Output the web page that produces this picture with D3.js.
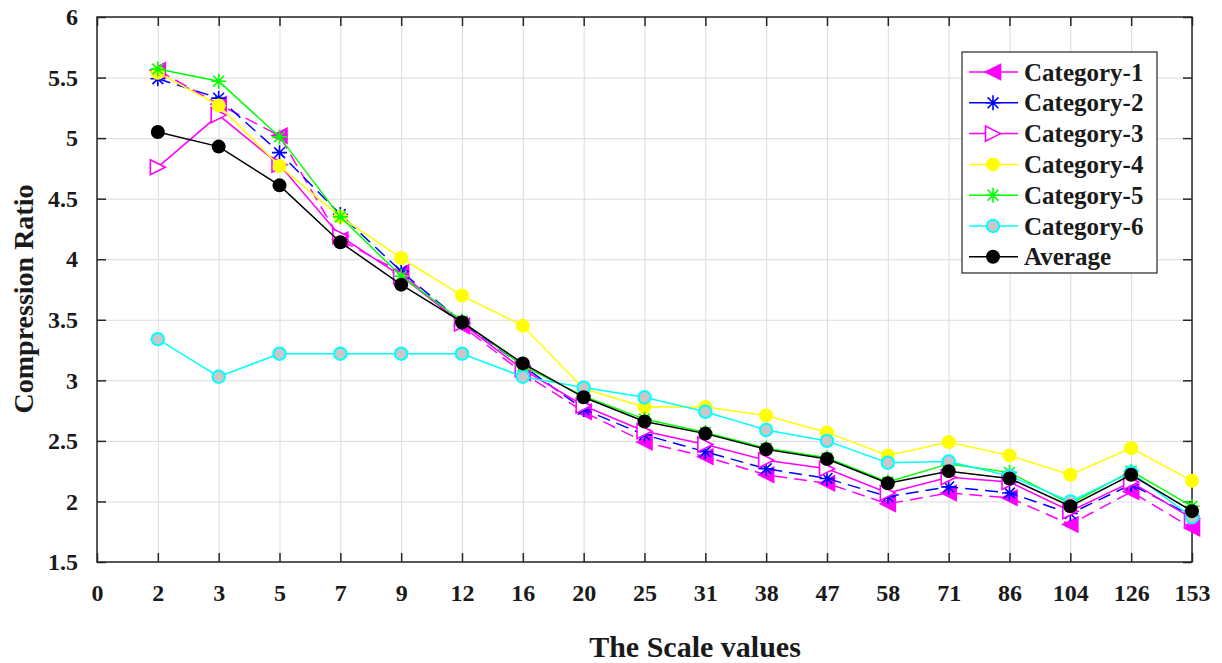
<!DOCTYPE html>
<html>
<head>
<meta charset="utf-8">
<script src="https://cdn.jsdelivr.net/npm/d3@7"></script>
<style>
  html, body { margin: 0; padding: 0; background: #fff; }
  svg { display: block; }
  svg text { font-family: "Liberation Serif", "DejaVu Serif", serif !important; font-weight: bold; }
</style>
</head>
<body>
<script>
// ---------- DATA ----------
const xLabels = ["0","2","3","5","7","9","12","16","20","25","31","38","47","58","71","86","104","126","153"];
const scaleValues = xLabels.slice(1);
const yTicks = [1.5, 2, 2.5, 3, 3.5, 4, 4.5, 5, 5.5, 6];

const seriesNames = ["Category-1","Category-2","Category-3","Category-4","Category-5","Category-6","Average"];

const category1 = [5.56,5.28,5.02,4.16,3.89,3.45,3.06,2.74,2.49,2.37,2.22,2.15,1.98,2.07,2.03,1.81,2.08,1.78];
const category2 = [5.49,5.33,4.88,4.37,3.90,3.48,3.12,2.76,2.55,2.41,2.27,2.19,2.04,2.12,2.07,1.90,2.14,1.88];
const category3 = [4.76,5.19,4.78,4.19,3.86,3.47,3.09,2.79,2.58,2.47,2.34,2.27,2.07,2.20,2.16,1.92,2.16,1.86];
const category4 = [5.54,5.27,4.77,4.35,4.01,3.70,3.45,2.93,2.78,2.78,2.71,2.57,2.38,2.49,2.38,2.22,2.44,2.17];
const category5 = [5.57,5.47,5.01,4.35,3.86,3.49,3.12,2.87,2.68,2.57,2.44,2.36,2.16,2.31,2.24,1.98,2.25,1.96];
const category6 = [3.34,3.03,3.22,3.22,3.22,3.22,3.03,2.94,2.86,2.74,2.59,2.50,2.32,2.33,2.21,2.00,2.24,1.87];
const average   = [5.05,4.93,4.61,4.14,3.79,3.48,3.14,2.86,2.66,2.56,2.43,2.35,2.15,2.25,2.19,1.96,2.22,1.92];

const seriesValues = [category1, category2, category3, category4, category5, category6, average];

// ---------- STYLE ----------
const styles = [
  { color: "#ff00ff", dash: "13,7", marker: "triLeft",  fill: "#ff00ff", stroke: "#ff00ff" },
  { color: "#0000ff", dash: "13,7", marker: "star",     fill: "none",    stroke: "#0000ff" },
  { color: "#ff00ff", dash: null,   marker: "triRight", fill: "#ffffff", stroke: "#ff00ff" },
  { color: "#ffff00", dash: null,   marker: "circle",   fill: "#ffff00", stroke: "#ffff00" },
  { color: "#00ff00", dash: null,   marker: "star",     fill: "none",    stroke: "#00ff00" },
  { color: "#00ffff", dash: null,   marker: "circleC",  fill: "#c8c8c8", stroke: "#00ffff" },
  { color: "#000000", dash: null,   marker: "circle",   fill: "#000000", stroke: "#000000" }
];

const W = 1222, H = 663;
const pL = 97, pR = 1192, pT = 17, pB = 562;
const TXT = "#1a1a1a";

const svg = d3.select("body").append("svg").attr("width", W).attr("height", H);

const x = d3.scalePoint().domain(xLabels).range([pL, pR]).padding(0);
const y = d3.scaleLinear().domain([1.5, 6]).range([pB, pT]);

// grid
const grid = svg.append("g");
grid.append("g").attr("transform", `translate(0,${pB})`)
  .call(d3.axisBottom(x).tickSize(-(pB - pT)).tickFormat(""))
  .call(g => g.select(".domain").remove())
  .call(g => g.selectAll("line").attr("stroke", "#dcdcdc").attr("stroke-width", 1));
grid.append("g").attr("transform", `translate(${pL},0)`)
  .call(d3.axisLeft(y).tickValues(yTicks).tickSize(-(pR - pL)).tickFormat(""))
  .call(g => g.select(".domain").remove())
  .call(g => g.selectAll("line").attr("stroke", "#dcdcdc").attr("stroke-width", 1));

// axes with inward ticks
const TK = 9;
function styleAxis(g, withText) {
  g.attr("font-family", null).attr("font-size", null);
  g.select(".domain").remove();
  g.selectAll("line").attr("stroke", "#262626").attr("stroke-width", 1.5);
  if (withText) {
    g.selectAll("text").attr("fill", TXT).style("font-size", "24px");
  } else {
    g.selectAll("text").remove();
  }
}
svg.append("g").attr("transform", `translate(0,${pB})`)
  .call(d3.axisBottom(x).tickSizeInner(-TK).tickSizeOuter(0).tickPadding(22))
  .call(g => styleAxis(g, true));
svg.append("g").attr("transform", `translate(0,${pT})`)
  .call(d3.axisTop(x).tickSizeInner(-TK).tickSizeOuter(0))
  .call(g => styleAxis(g, false));
svg.append("g").attr("transform", `translate(${pL},0)`)
  .call(d3.axisLeft(y).tickValues(yTicks).tickFormat(d3.format("")).tickSizeInner(-TK).tickSizeOuter(0).tickPadding(19))
  .call(g => styleAxis(g, true));
svg.append("g").attr("transform", `translate(${pR},0)`)
  .call(d3.axisRight(y).tickValues(yTicks).tickSizeInner(-TK).tickSizeOuter(0))
  .call(g => styleAxis(g, false));

// box
svg.append("rect").attr("x", pL).attr("y", pT).attr("width", pR - pL).attr("height", pB - pT)
  .attr("fill", "none").attr("stroke", "#262626").attr("stroke-width", 1.5);

// markers
function markerPath(type) {
  const r = 7.5;
  if (type === "triLeft") return `M${-r},0L${r},${-r}L${r},${r}Z`;
  if (type === "triRight") return `M${r},0L${-r},${-r}L${-r},${r}Z`;
  if (type === "star") {
    const a = r * 0.72;
    return `M${-r},0L${r},0M0,${-r}L0,${r}M${-a},${-a}L${a},${a}M${-a},${a}L${a},${-a}`;
  }
  return null;
}
function drawMarker(sel, st) {
  if (st.marker === "circle") {
    sel.append("circle").attr("r", 7).attr("fill", st.fill).attr("stroke", "none");
  } else if (st.marker === "circleC") {
    sel.append("circle").attr("r", 6.2).attr("fill", st.fill).attr("stroke", st.stroke).attr("stroke-width", 2);
  } else {
    sel.append("path").attr("d", markerPath(st.marker))
      .attr("fill", st.fill).attr("stroke", st.stroke).attr("stroke-width", 1.6)
      .attr("stroke-linejoin", "miter");
  }
}

const line = d3.line().x((d, i) => x(scaleValues[i])).y(d => y(d));

seriesValues.forEach((vals, k) => {
  const st = styles[k];
  const g = svg.append("g");
  g.append("path").datum(vals).attr("d", line)
    .attr("fill", "none").attr("stroke", st.color).attr("stroke-width", 1.5)
    .attr("stroke-dasharray", st.dash);
  vals.forEach((v, i) => {
    const m = g.append("g").attr("transform", `translate(${x(scaleValues[i])},${y(v)})`);
    drawMarker(m, st);
  });
});

// legend
const lg = svg.append("g");
const lx = 962, ly = 52, lw = 195, lh = 221;
lg.append("rect").attr("x", lx).attr("y", ly).attr("width", lw).attr("height", lh)
  .attr("fill", "#fff").attr("stroke", "#262626").attr("stroke-width", 1.2);
seriesNames.forEach((name, k) => {
  const st = styles[k];
  const cy = 72 + k * 30.8;
  lg.append("line").attr("x1", 969).attr("x2", 1018).attr("y1", cy).attr("y2", cy)
    .attr("stroke", st.color).attr("stroke-width", 1.5);
  const m = lg.append("g").attr("transform", `translate(993,${cy})`);
  drawMarker(m, st);
  lg.append("text").attr("x", 1024).attr("y", cy + 8.5)
    .style("font-size", "25px").attr("fill", TXT).text(name);
});

// axis titles
svg.append("text").attr("x", 695).attr("y", 657).attr("text-anchor", "middle")
  .style("font-size", "30px").attr("fill", TXT).text("The Scale values");
svg.append("text").attr("transform", "translate(33,299) rotate(-90)").attr("text-anchor", "middle")
  .style("font-size", "28px").attr("fill", TXT).text("Compression Ratio");
</script>
</body>
</html>
